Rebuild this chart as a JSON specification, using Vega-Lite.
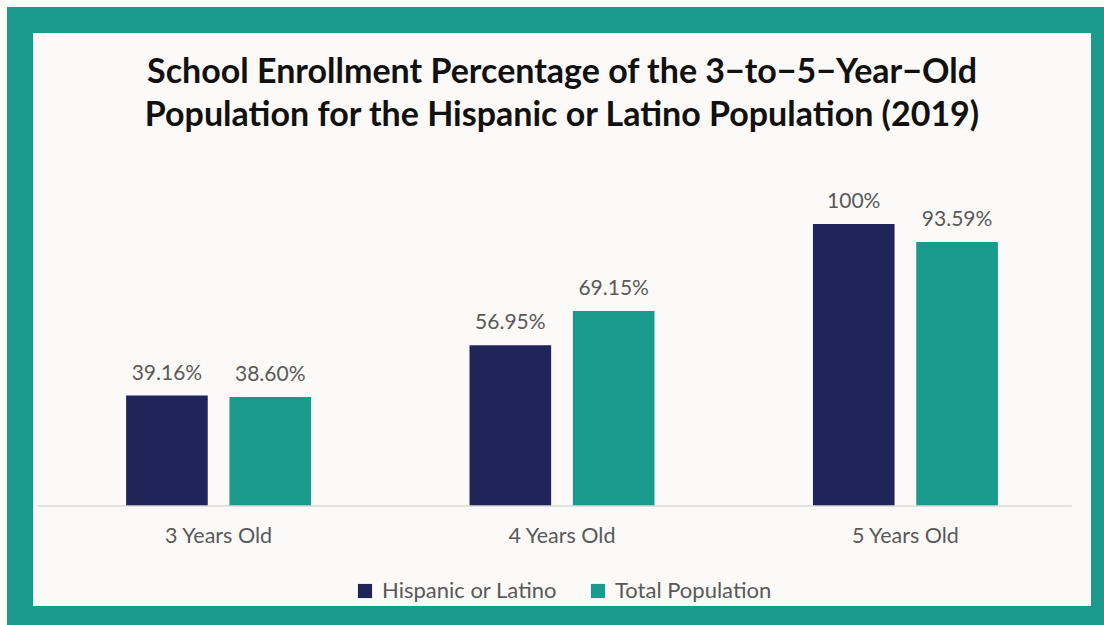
{
  "$schema": "https://vega.github.io/schema/vega-lite/v6.json",
  "width": 1084,
  "height": 599,
  "autosize": {"type": "none"},
  "padding": {"left": 20, "top": 20, "right": 0, "bottom": 6},
  "background": "#fdfdf7",
  "view": {"fill": "#fbfaf8", "stroke": "#1a9a8c", "strokeWidth": 26},
  "title": {
    "text": ["School Enrollment Percentage of the 3−to−5−Year−Old", "Population for the Hispanic or Latino Population (2019)"],
    "font": "Lato", "fontSize": 34, "fontWeight": "bold", "color": "#111111",
    "lineHeight": 43, "anchor": "middle", "frame": "group", "offset": -113
  },
  "data": {"values": [
    {"age": "3 Years Old", "group": "Hispanic or Latino", "pct": 39.16, "label": "39.16%"},
    {"age": "3 Years Old", "group": "Total Population", "pct": 38.60, "label": "38.60%"},
    {"age": "4 Years Old", "group": "Hispanic or Latino", "pct": 56.95, "label": "56.95%"},
    {"age": "4 Years Old", "group": "Total Population", "pct": 69.15, "label": "69.15%"},
    {"age": "5 Years Old", "group": "Hispanic or Latino", "pct": 100, "label": "100%"},
    {"age": "5 Years Old", "group": "Total Population", "pct": 93.59, "label": "93.59%"}
  ]},
  "layer": [
    {
      "mark": {"type": "bar"},
      "encoding": {
        "x": {"field": "age", "type": "nominal", "sort": ["3 Years Old", "4 Years Old", "5 Years Old"],
          "scale": {"paddingInner": 0.4614, "paddingOuter": 0.309},
          "axis": {"orient": "bottom", "offset": -113, "domain": false, "ticks": false, "labelPadding": 19, "labelFont": "Lato", "labelFontSize": 21.5, "labelColor": "#595959", "title": null, "labelAngle": 0}},
        "xOffset": {"field": "group", "type": "nominal", "sort": ["Hispanic or Latino", "Total Population"], "scale": {"paddingInner": 0.21, "paddingOuter": 0}},
        "y": {"field": "pct", "type": "quantitative", "scale": {"domain": [-40.07, 172.3], "nice": false, "zero": false}, "axis": null},
        "y2": {"datum": 0},
        "color": {"field": "group", "type": "nominal", "sort": ["Hispanic or Latino", "Total Population"],
          "scale": {"domain": ["Hispanic or Latino", "Total Population"], "range": ["#1f2459", "#1a9a8c"]},
          "legend": {"orient": "none", "legendX": 334, "legendY": 560, "padding": 0, "direction": "horizontal", "title": null, "symbolType": "square", "symbolSize": 200, "symbolStrokeWidth": 0, "labelFont": "Lato", "labelFontSize": 22, "labelColor": "#595959", "labelLimit": 400, "columnPadding": 30, "labelOffset": 6}}
      }
    },
    {
      "mark": {"type": "text", "dy": -16, "baseline": "alphabetic", "font": "Lato", "fontSize": 21, "color": "#595959"},
      "encoding": {
        "x": {"field": "age", "type": "nominal", "sort": ["3 Years Old", "4 Years Old", "5 Years Old"]},
        "xOffset": {"field": "group", "type": "nominal", "sort": ["Hispanic or Latino", "Total Population"]},
        "y": {"field": "pct", "type": "quantitative"},
        "text": {"field": "label"}
      }
    },
    {
      "data": {"values": [{}]},
      "mark": {"type": "rule", "color": "#d9d9d9", "strokeWidth": 1.5},
      "encoding": {
        "x": {"datum": "3 Years Old", "bandPosition": -0.48},
        "x2": {"datum": "5 Years Old", "bandPosition": 1.4},
        "y": {"datum": 0}
      }
    }
  ]
}
